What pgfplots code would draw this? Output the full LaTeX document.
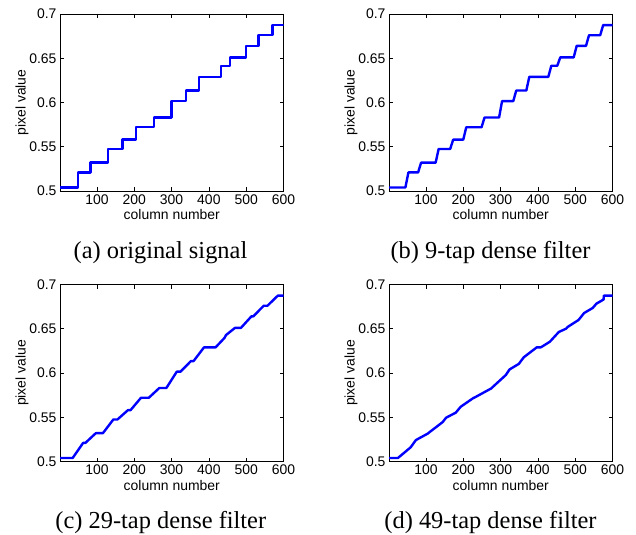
\documentclass[border=0pt]{standalone}
\usepackage{fontspec}
\setmainfont{Liberation Serif}
\setsansfont{Liberation Sans}
\usepackage{pgfplots}
\pgfplotsset{compat=1.18}
\pgfplotsset{sub/.style={
  scale only axis, width=223.5bp, height=177bp, anchor=south west,
  xmin=1, xmax=600, ymin=0.5, ymax=0.7,
  xtick={100,200,300,400,500,600}, ytick={0.5,0.55,0.6,0.65,0.7},
  xticklabels={100,200,300,400,500,600},
  yticklabels={0.5,0.55,0.6,0.65,0.7},
  /pgf/number format/assume math mode=true,
  tick align=inside, tick pos=both, major tick length=4bp,
  axis line style={line width=0.6bp},
  every tick/.style={black, line width=0.6bp},
  tick label style={font=\fontsize{14}{16}\selectfont\sffamily},
  label style={font=\fontsize{14}{16}\selectfont\sffamily},
  xlabel={column number}, ylabel={pixel value},
  xlabel style={at={(axis description cs:0.5,-0.1638)}, anchor=base},
  ylabel style={at={(axis description cs:-0.1535,0.5)}, anchor=base},
  every axis plot/.append style={color=blue, line width=2.4bp, line join=round, no marks},
}}
\begin{document}
\begin{tikzpicture}
\path[use as bounding box] (0,0) rectangle (636bp,535bp);
% (a) original signal
\begin{axis}[sub, at={(60bp,344bp)}]
\addplot coordinates {
(1,0.504) (49,0.504) (49,0.521) (83,0.521) (83,0.532) (130,0.532) (130,0.5475)
(169,0.5475) (169,0.558) (204,0.558) (204,0.572) (253,0.572) (253,0.583)
(300,0.583) (300,0.6015) (338,0.6015) (338,0.6135) (373,0.6135) (373,0.629)
(432,0.629) (432,0.6415) (456,0.6415) (456,0.651) (500,0.651) (500,0.664)
(533,0.664) (533,0.676) (571,0.676) (571,0.6875) (600,0.6875)};
\end{axis}
% (b) 9-tap
\begin{axis}[sub, at={(389bp,344bp)}]
\addplot coordinates {
(1,0.504) (45,0.504) (53,0.521) (79,0.521) (87,0.532) (126,0.532) (134,0.5475)
(165,0.5475) (173,0.558) (200,0.558) (208,0.572) (249,0.572) (257,0.583)
(296,0.583) (304,0.6015) (334,0.6015) (342,0.6135) (369,0.6135) (377,0.629)
(428,0.629) (436,0.6415) (452,0.6415) (460,0.651) (496,0.651) (504,0.664)
(529,0.664) (537,0.676) (567,0.676) (575,0.6875) (600,0.6875)};
\end{axis}
% (c) 29-tap
\begin{axis}[sub, at={(60bp,73.5bp)}]
\addplot coordinates {
(1,0.504) (35,0.504) (63,0.521) (69,0.521) (97,0.532) (116,0.532) (144,0.5475)
(155,0.5475) (183,0.558) (190,0.558) (218,0.572) (239,0.572) (267,0.583)
(286,0.583) (314,0.6015) (324,0.6015) (352,0.6135) (359,0.6135) (387,0.629)
(418,0.629) (442,0.6397) (446,0.6429) (470,0.651) (486,0.651) (514,0.664)
(519,0.664) (547,0.676) (557,0.676) (585,0.6875) (600,0.6875)};
\end{axis}
% (d) 49-tap
\begin{axis}[sub, at={(389bp,73.5bp)}]
\addplot coordinates {
(1,0.504) (25,0.504) (59,0.5160) (73,0.5242) (106,0.5318) (107,0.5323)
(145,0.5446) (154,0.5495) (180,0.5552) (193,0.5618) (228,0.572) (229,0.572)
(276,0.5828) (277,0.5834) (314,0.5977) (324,0.604) (349,0.6103) (362,0.6177)
(397,0.629) (408,0.629) (432,0.6353) (456,0.6463) (476,0.6502) (480,0.6521)
(509,0.6599) (524,0.6678) (547,0.6735) (557,0.6784) (576,0.6830)
(577,0.6875) (600,0.6875)};
\end{axis}
\begin{scope}[every node/.style={anchor=base, font=\fontsize{24.5}{28}\selectfont\rmfamily, inner sep=0pt}]
\node at (160.5bp,276bp) {(a) original signal};
\node at (490.5bp,276bp) {(b) 9-tap dense filter};
\node at (160.8bp,7bp) {(c) 29-tap dense filter};
\node at (490.5bp,7bp) {(d) 49-tap dense filter};
\end{scope}
\end{tikzpicture}
\end{document}
